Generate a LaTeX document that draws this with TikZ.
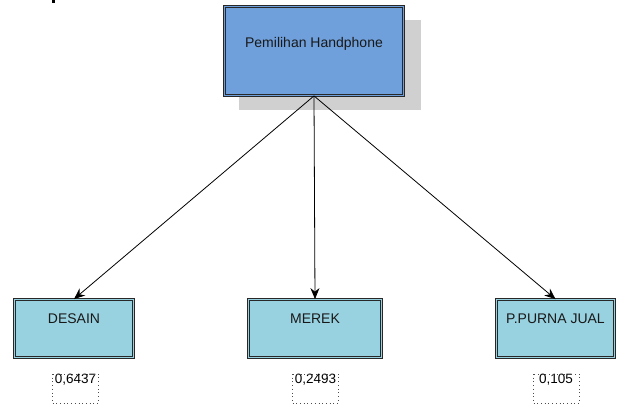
\documentclass[tikz,border=0pt]{standalone}
\usepackage{fontspec}
\setmainfont{Liberation Sans}
\usetikzlibrary{arrows.meta}
\definecolor{topblue}{RGB}{111,160,220}
\definecolor{leafblue}{RGB}{152,210,224}
\definecolor{shadowgray}{RGB}{208,208,208}
\definecolor{edgegray}{RGB}{40,40,40}
\tikzset{
  boxbase/.style={draw=edgegray, line width=0.8pt, double distance=1.6pt, rectangle, inner sep=0pt},
  topbox/.style={boxbase, fill=topblue, double=topblue, minimum width=179pt, minimum height=89pt},
  leafbox/.style={boxbase, fill=leafblue, double=leafblue, minimum height=58pt},
  lbl/.style={font=\fontsize{14}{16}\selectfont, text=black!90, inner sep=0pt},
  numtext/.style={font=\fontsize{13.5}{15}\selectfont, inner sep=0pt},
  dotbox/.style={draw=black!70, dash pattern=on 0.7pt off 3pt, line width=0.7pt},
  conn/.style={-{Stealth[length=11pt,width=9pt]}, line width=0.8pt}
}
\begin{document}
\begin{tikzpicture}[x=1pt,y=-1pt]
\useasboundingbox (0,0) rectangle (622,407);
\fill[black] (52,0) rectangle (55,2.5);
% shadow
\fill[shadowgray] (239,20) rectangle (421,110);
\node[topbox] (top) at (314,51) {};
\node[lbl] (toptext) at (314,44) {Pemilihan Handphone};
\node[leafbox, minimum width=119pt] (desain) at (74,328.5) {};
\node[leafbox, minimum width=133pt] (merek) at (315,328.5) {};
\node[leafbox, minimum width=118pt] (purna) at (555.5,328.5) {};
\node[lbl] (desaint) at (74,319) {DESAIN};
\node[lbl] (merekt) at (315,319) {MEREK};
\node[lbl] (purnat) at (555.5,319) {P.PURNA JUAL};
\draw[conn] (top.south) -- (desain.north);
\draw[conn] (top.south) -- (merek.north);
\draw[conn] (top.south) -- (purna.north);
\node[numtext] (v1) at (75.5,380) {0,6437};
\node[numtext] (v2) at (315.5,380) {0,2493};
\node[numtext] (v3) at (556,380) {0,105};
\draw[dotbox] (52,374) rectangle (98,403);
\draw[dotbox] (292,374) rectangle (338,403);
\draw[dotbox] (533,374) rectangle (579,403);
\end{tikzpicture}
\end{document}
